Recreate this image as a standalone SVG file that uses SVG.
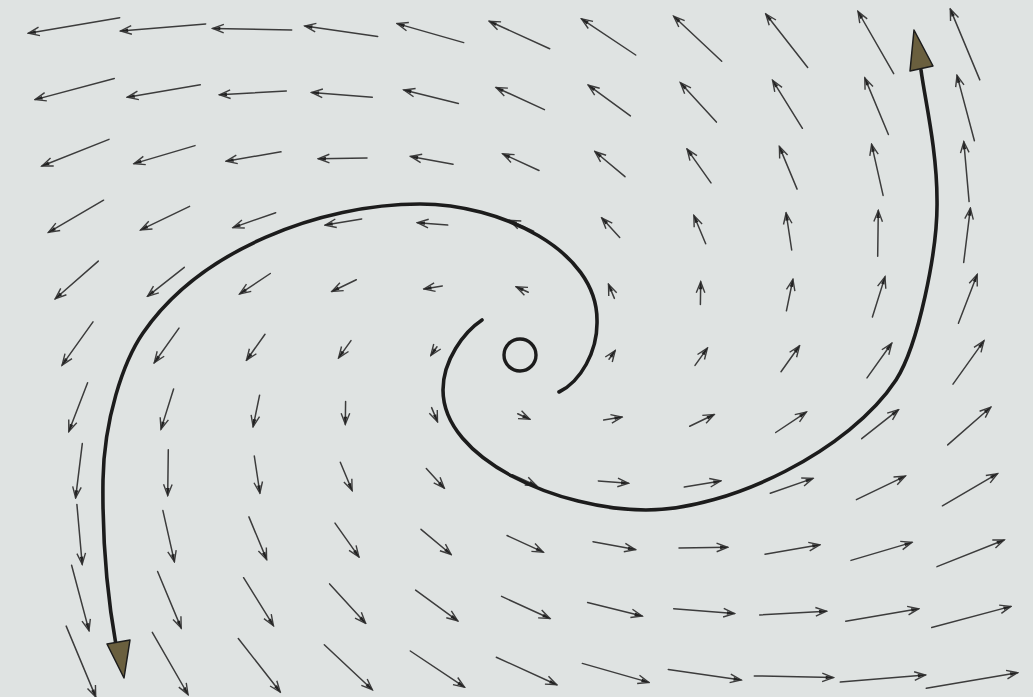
<svg xmlns="http://www.w3.org/2000/svg" width="1033" height="697" viewBox="0 0 1033 697">
<defs>
<style>
.a{fill:none;stroke:#3c3c3c;stroke-width:1.5;stroke-linecap:round;marker-end:url(#h)}
.t{fill:none;stroke:#1c1c1c;stroke-width:3.6;stroke-linecap:round}
.th{fill:#6a5f3e;stroke:#1c1c1c;stroke-width:1.5;stroke-linejoin:round}
</style>
<marker id="h" markerWidth="14" markerHeight="11" refX="12.5" refY="5.5" orient="auto" markerUnits="userSpaceOnUse" viewBox="0 0 14 11">
<path d="M1.5,1.2 L12.5,5.5 L1.5,9.8" fill="none" stroke="#3c3c3c" stroke-width="1.4"/>
<path d="M5,3.7 L12.5,5.5 L5,7.3 z" fill="#222"/>
</marker>
</defs>
<rect x="0" y="0" width="1033" height="697" fill="#dfe3e2"/>
<g id="field">
<path class="a" d="M74 25.5m45.7 -7.8l-91.3 15.6"/>
<path class="a" d="M163.1 27.4m42.6 -3.5l-85.1 7"/>
<path class="a" d="M252.2 29.3m39.5 0.8l-78.9 -1.7"/>
<path class="a" d="M341.3 31.2m36.4 5.2l-72.8 -10.3"/>
<path class="a" d="M430.4 33.1m33.3 9.5l-66.6 -19"/>
<path class="a" d="M519.5 35m30.2 13.8l-60.4 -27.6"/>
<path class="a" d="M608.6 36.9m27.1 18.1l-54.2 -36.2"/>
<path class="a" d="M697.7 38.8m24 22.4l-48 -44.9"/>
<path class="a" d="M786.8 40.7m20.9 26.8l-41.9 -53.5"/>
<path class="a" d="M875.9 42.6m17.8 31.1l-35.7 -62.2"/>
<path class="a" d="M965 44.5m14.8 35.4l-29.5 -70.8"/>

<path class="a" d="M74.7 89.1m39.6 -10.6l-79.2 21.1"/>
<path class="a" d="M163.8 91m36.5 -6.2l-73 12.5"/>
<path class="a" d="M252.9 92.9m33.4 -1.9l-66.9 3.8"/>
<path class="a" d="M342 94.8m30.3 2.4l-60.7 -4.8"/>
<path class="a" d="M431.1 96.7m27.3 6.7l-54.5 -13.4"/>
<path class="a" d="M520.2 98.6m24.2 11l-48.3 -22.1"/>
<path class="a" d="M609.3 100.5m21.1 15.4l-42.1 -30.7"/>
<path class="a" d="M698.4 102.4m18 19.7l-36 -39.4"/>
<path class="a" d="M787.5 104.3m14.9 24l-29.8 -48"/>
<path class="a" d="M876.6 106.2m11.8 28.3l-23.6 -56.6"/>
<path class="a" d="M965.7 108.1m8.7 32.6l-17.4 -65.3"/>

<path class="a" d="M75.4 152.7m33.6 -13.3l-67.1 26.6"/>
<path class="a" d="M164.5 154.6m30.5 -9l-61 18"/>
<path class="a" d="M253.6 156.5m27.4 -4.7l-54.8 9.4"/>
<path class="a" d="M342.7 158.4m24.3 -0.4l-48.6 0.7"/>
<path class="a" d="M431.8 160.3m21.2 4l-42.4 -7.9"/>
<path class="a" d="M520.9 162.2m18.1 8.3l-36.2 -16.6"/>
<path class="a" d="M610 164.1m15 12.6l-30.1 -25.2"/>
<path class="a" d="M699.1 166m11.9 16.9l-23.9 -33.8"/>
<path class="a" d="M788.2 167.9m8.9 21.2l-17.7 -42.5"/>
<path class="a" d="M877.3 169.8m5.8 25.6l-11.5 -51.1"/>
<path class="a" d="M966.4 171.7m2.7 29.9l-5.3 -59.8"/>

<path class="a" d="M76.1 216.3m27.5 -16.1l-55.1 32.2"/>
<path class="a" d="M165.2 218.2m24.4 -11.8l-48.9 23.5"/>
<path class="a" d="M254.3 220.1m21.4 -7.4l-42.7 14.9"/>
<path class="a" d="M343.4 222m18.3 -3.1l-36.5 6.2"/>
<path class="a" d="M432.5 223.9m15.2 1.2l-30.3 -2.4"/>
<path class="a" d="M521.6 225.8m12.1 5.5l-24.2 -11"/>
<path class="a" d="M610.7 227.7m9 9.8l-18 -19.7"/>
<path class="a" d="M699.8 229.6m5.9 14.2l-11.8 -28.3"/>
<path class="a" d="M788.9 231.5m2.8 18.5l-5.6 -37"/>
<path class="a" d="M878 233.4m-0.3 22.8l0.6 -45.6"/>
<path class="a" d="M967.1 235.3m-3.4 27.1l6.7 -54.2"/>

<path class="a" d="M76.8 279.9m21.5 -18.8l-43 37.7"/>
<path class="a" d="M165.9 281.8m18.4 -14.5l-36.8 29"/>
<path class="a" d="M255 283.7m15.3 -10.2l-30.6 20.4"/>
<path class="a" d="M344.1 285.6m12.2 -5.9l-24.4 11.8"/>
<path class="a" d="M433.2 287.5m9.1 -1.6l-18.3 3.1"/>
<path class="a" d="M522.3 289.4m6 2.8l-12.1 -5.5"/>
<path class="a" d="M611.4 291.3m3 7.1l-5.9 -14.2"/>
<path class="a" d="M700.5 293.2m-0.1 11.4l0.3 -22.8"/>
<path class="a" d="M789.6 295.1m-3.2 15.7l6.5 -31.4"/>
<path class="a" d="M878.7 297m-6.3 20l12.6 -40.1"/>
<path class="a" d="M967.8 298.9m-9.4 24.4l18.8 -48.7"/>

<path class="a" d="M77.5 343.5m15.5 -21.6l-30.9 43.2"/>
<path class="a" d="M166.6 345.4m12.4 -17.3l-24.7 34.6"/>
<path class="a" d="M255.7 347.3m9.3 -13l-18.5 25.9"/>
<path class="a" d="M344.8 349.2m6.2 -8.6l-12.4 17.3"/>
<path class="a" d="M433.9 351.1m3.1 -4.3l-6.2 8.6"/>
<path class="a" d="M612.1 354.9m-3.1 4.3l6.2 -8.6"/>
<path class="a" d="M701.2 356.8m-6.2 8.6l12.4 -17.3"/>
<path class="a" d="M790.3 358.7m-9.3 13l18.5 -25.9"/>
<path class="a" d="M879.4 360.6m-12.4 17.3l24.7 -34.6"/>
<path class="a" d="M968.5 362.5m-15.5 21.6l30.9 -43.2"/>

<path class="a" d="M78.2 407.1m9.4 -24.4l-18.8 48.7"/>
<path class="a" d="M167.3 409m6.3 -20l-12.6 40.1"/>
<path class="a" d="M256.4 410.9m3.2 -15.7l-6.5 31.4"/>
<path class="a" d="M345.5 412.8m0.1 -11.4l-0.3 22.8"/>
<path class="a" d="M434.6 414.7m-3 -7.1l5.9 14.2"/>
<path class="a" d="M523.7 416.6m-6 -2.8l12.1 5.5"/>
<path class="a" d="M612.8 418.5m-9.1 1.6l18.3 -3.1"/>
<path class="a" d="M701.9 420.4m-12.2 5.9l24.4 -11.8"/>
<path class="a" d="M791 422.3m-15.3 10.2l30.6 -20.4"/>
<path class="a" d="M880.1 424.2m-18.4 14.5l36.8 -29"/>
<path class="a" d="M969.2 426.1m-21.5 18.8l43 -37.7"/>

<path class="a" d="M78.9 470.7m3.4 -27.1l-6.7 54.2"/>
<path class="a" d="M168 472.6m0.3 -22.8l-0.6 45.6"/>
<path class="a" d="M257.1 474.5m-2.8 -18.5l5.6 37"/>
<path class="a" d="M346.2 476.4m-5.9 -14.2l11.8 28.3"/>
<path class="a" d="M435.3 478.3m-9 -9.8l18 19.7"/>
<path class="a" d="M524.4 480.2m-12.1 -5.5l24.2 11"/>
<path class="a" d="M613.5 482.1m-15.2 -1.2l30.3 2.4"/>
<path class="a" d="M702.6 484m-18.3 3.1l36.5 -6.2"/>
<path class="a" d="M791.7 485.9m-21.4 7.4l42.7 -14.9"/>
<path class="a" d="M880.8 487.8m-24.4 11.8l48.9 -23.5"/>
<path class="a" d="M969.9 489.7m-27.5 16.1l55.1 -32.2"/>

<path class="a" d="M79.6 534.3m-2.7 -29.9l5.3 59.8"/>
<path class="a" d="M168.7 536.2m-5.8 -25.6l11.5 51.1"/>
<path class="a" d="M257.8 538.1m-8.9 -21.2l17.7 42.5"/>
<path class="a" d="M346.9 540m-11.9 -16.9l23.9 33.8"/>
<path class="a" d="M436 541.9m-15 -12.6l30.1 25.2"/>
<path class="a" d="M525.1 543.8m-18.1 -8.3l36.2 16.6"/>
<path class="a" d="M614.2 545.7m-21.2 -4l42.4 7.9"/>
<path class="a" d="M703.3 547.6m-24.3 0.4l48.6 -0.7"/>
<path class="a" d="M792.4 549.5m-27.4 4.7l54.8 -9.4"/>
<path class="a" d="M881.5 551.4m-30.5 9l61 -18"/>
<path class="a" d="M970.6 553.3m-33.6 13.3l67.1 -26.6"/>

<path class="a" d="M80.3 597.9m-8.7 -32.6l17.4 65.3"/>
<path class="a" d="M169.4 599.8m-11.8 -28.3l23.6 56.6"/>
<path class="a" d="M258.5 601.7m-14.9 -24l29.8 48"/>
<path class="a" d="M347.6 603.6m-18 -19.7l36 39.4"/>
<path class="a" d="M436.7 605.5m-21.1 -15.4l42.1 30.7"/>
<path class="a" d="M525.8 607.4m-24.2 -11l48.3 22.1"/>
<path class="a" d="M614.9 609.3m-27.3 -6.7l54.5 13.4"/>
<path class="a" d="M704 611.2m-30.3 -2.4l60.7 4.8"/>
<path class="a" d="M793.1 613.1m-33.4 1.9l66.9 -3.8"/>
<path class="a" d="M882.2 615m-36.5 6.2l73 -12.5"/>
<path class="a" d="M971.3 616.9m-39.6 10.6l79.2 -21.1"/>

<path class="a" d="M81 661.5m-14.8 -35.4l29.5 70.8"/>
<path class="a" d="M170.1 663.4m-17.8 -31.1l35.7 62.2"/>
<path class="a" d="M259.2 665.3m-20.9 -26.8l41.9 53.5"/>
<path class="a" d="M348.3 667.2m-24 -22.4l48 44.9"/>
<path class="a" d="M437.4 669.1m-27.1 -18.1l54.2 36.2"/>
<path class="a" d="M526.5 671m-30.2 -13.8l60.4 27.6"/>
<path class="a" d="M615.6 672.9m-33.3 -9.5l66.6 19"/>
<path class="a" d="M704.7 674.8m-36.4 -5.2l72.8 10.3"/>
<path class="a" d="M793.8 676.7m-39.5 -0.8l78.9 1.7"/>
<path class="a" d="M882.9 678.6m-42.6 3.5l85.1 -7"/>
<path class="a" d="M972 680.5m-45.7 7.8l91.3 -15.6"/>
</g>
<g id="trajectory-outer-left">
<path class="t" d="M559 392 C580 382 598 352 597 320 C597 250 500 204 420 204 C320 204 200 250 143 333 C123 362 104 420 103 480 C102 550 108 600 116 645"/>
<polygon class="th" points="107,644 130,640 124,678"/>
</g>
<g id="trajectory-outer-right">
<path class="t" d="M482 320 C464 332 443 360 443 390 C443 460 560 510 646 510 C730 510 850 450 896 380 C918 346 938 250 937 200 C937 150 925 100 921 70"/>
<polygon class="th" points="910,71 933,66 914,30"/>
</g>
<g id="fixed-point">
<circle cx="520" cy="355" r="16" fill="none" stroke="#1c1c1c" stroke-width="3.4"/>
</g>
</svg>
